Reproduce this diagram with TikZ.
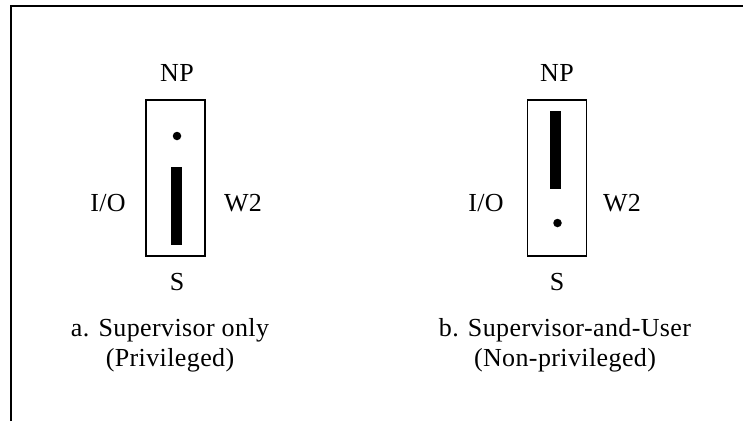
\documentclass[tikz,border=0pt]{standalone}
\usepackage{fontspec}
\setmainfont{Liberation Serif}[LetterSpace=1.5]
\usetikzlibrary{positioning}

\tikzset{
  jumper/.style={draw, line width=1.9pt, minimum width=59pt, minimum height=156pt, inner sep=0pt},
  pin/.style={fill, inner sep=0pt, minimum width=11pt, minimum height=78pt},
  hole/.style={fill, circle, inner sep=0pt, minimum size=8.5pt},
  lbl/.style={inner sep=0pt, text height=17pt, text depth=0pt},
  caption/.style={inner sep=0pt, align=center, anchor=base}
}

\begin{document}
\begin{tikzpicture}[x=1pt, y=-1pt, font=\fontsize{26}{30}\selectfont]
    \useasboundingbox (0, 0) rectangle (743, 421);
    % frame
    \draw[line width=2.2pt] (11, 421) -- (11, 6) -- (743, 6);

    % a. supervisor only
    \node[jumper] (boxA) at (175.5, 178) {};
    \node[hole] (dotA) at (177, 136) {};
    \node[pin] (pinA) at (176.5, 206) {};
    \node[lbl] (npA) at (177, 73) {NP};
    \node[lbl] (ioA) at (108, 203) {I/O};
    \node[lbl] (wA) at (243, 203) {W2};
    \node[lbl] (sA) at (177, 282) {S};
    \node[caption] (capA) at (170, 366) {a. Supervisor only\\(Privileged)};

    % b. supervisor and user
    \node[jumper] (boxB) at (557, 178) {};
    \node[pin] (pinB) at (555.5, 149.5) {};
    \node[hole] (dotB) at (557.5, 223) {};
    \node[lbl] (npB) at (557, 73) {NP};
    \node[lbl] (ioB) at (486, 203) {I/O};
    \node[lbl] (wB) at (622, 203) {W2};
    \node[lbl] (sB) at (557, 282) {S};
    \node[caption] (capB) at (565, 366) {b. Supervisor-and-User\\(Non-privileged)};
\end{tikzpicture}
\end{document}
